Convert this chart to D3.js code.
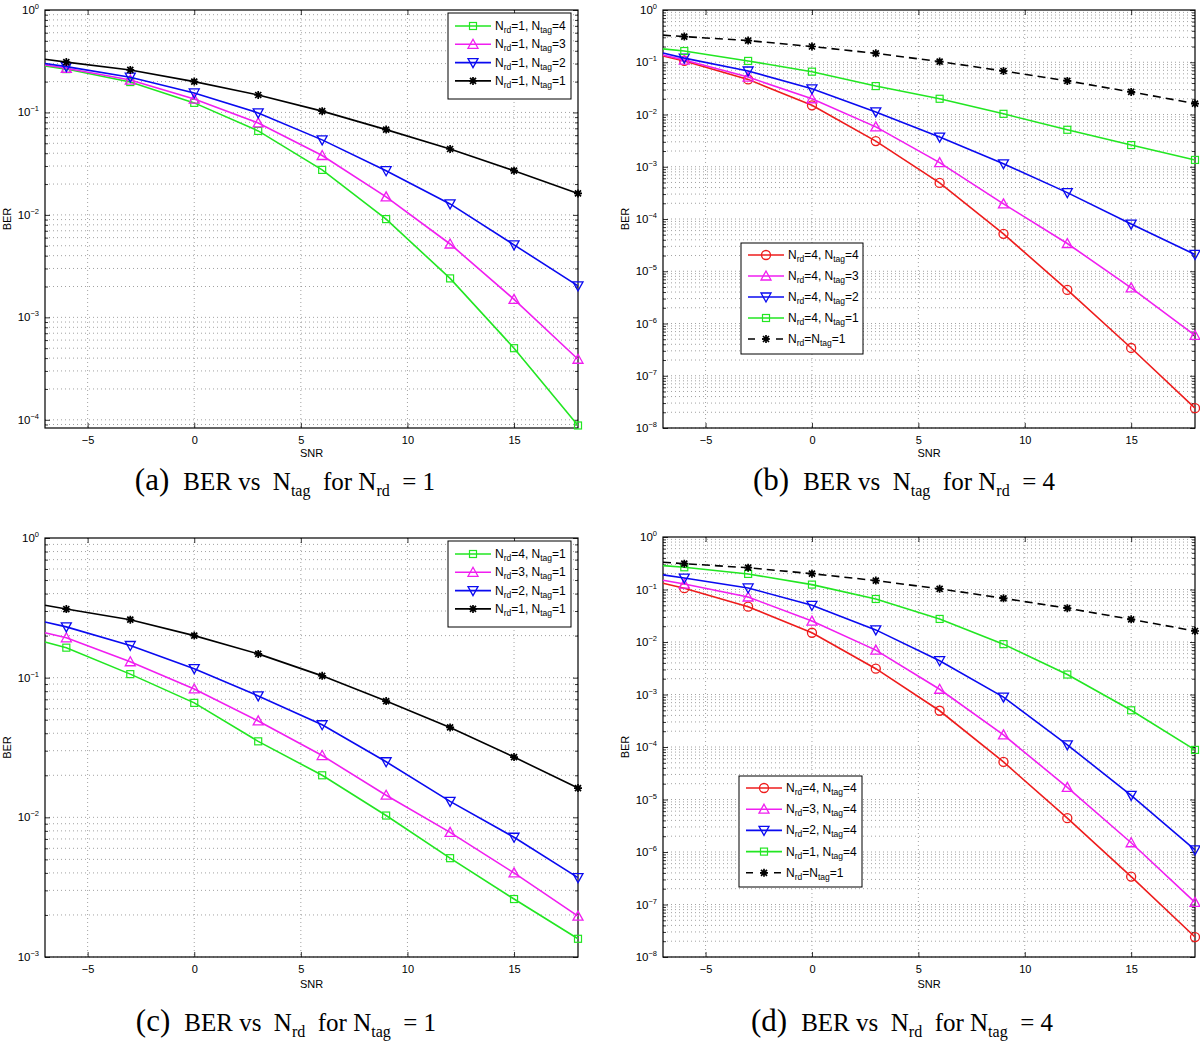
<!DOCTYPE html>
<html>
<head>
<meta charset="utf-8">
<script src="https://cdn.jsdelivr.net/npm/d3@7"></script>
<style>
body { margin: 0; background: #fff; }
svg { display: block; }
.lbl { font-family: "Liberation Sans", Arial, Helvetica, sans-serif; fill: #000; }
.cap { font-family: "Liberation Serif", "Times New Roman", serif; fill: #000; white-space: pre; }
</style>
</head>
<body>
<svg width="1200" height="1043"></svg>
<script>
// **** Values ****
// first SNR value is the left edge of the axes (line only, no marker)
var snr = [-7, -6, -3, 0, 3, 6, 9, 12, 15, 18];
var xTicks = [-5, 0, 5, 10, 15];

var berRd1Tag1 = [0.33, 0.31, 0.26, 0.20, 0.148, 0.103, 0.068, 0.044, 0.027, 0.0162];
var berRd1Tag2 = [0.30, 0.28, 0.221, 0.155, 0.099, 0.054, 0.027, 0.0128, 0.0051, 0.00203];
var berRd1Tag3 = [0.29, 0.27, 0.207, 0.135, 0.079, 0.038, 0.015, 0.0052, 0.0015, 0.00039];
var berRd1Tag4 = [0.285, 0.265, 0.198, 0.124, 0.066, 0.0275, 0.0091, 0.0024, 0.0005, 0.000088];
var berRd4Tag1 = [0.18, 0.164, 0.106, 0.066, 0.035, 0.020, 0.0103, 0.0051, 0.0026, 0.00135];
var berRd4Tag2 = [0.15, 0.12, 0.068, 0.031, 0.0112, 0.0037, 0.00114, 0.00032, 0.00008, 0.000021];
var berRd4Tag3 = [0.138, 0.11, 0.052, 0.020, 0.0058, 0.0012, 0.000195, 0.000034, 0.0000048, 0.00000059];
var berRd4Tag4 = [0.132, 0.106, 0.047, 0.015, 0.0031, 0.00049, 0.000052, 0.0000044, 0.00000034, 0.000000024];
var berRd2Tag1 = [0.25, 0.231, 0.17, 0.116, 0.074, 0.046, 0.025, 0.013, 0.0072, 0.0037];
var berRd3Tag1 = [0.21, 0.193, 0.13, 0.083, 0.049, 0.0277, 0.0144, 0.0078, 0.0040, 0.00196];
var berRd2Tag4 = [0.19, 0.165, 0.107, 0.05, 0.017, 0.0044, 0.00089, 0.00011, 0.000012, 0.0000011];
var berRd3Tag4 = [0.15, 0.127, 0.072, 0.025, 0.007, 0.00126, 0.00017, 0.000017, 0.0000015, 0.00000011];

var GREEN = "#22e622", MAGENTA = "#f01ef0", BLUE = "#0a0af0", RED = "#ee1c1c", BLACK = "#000";

var panels = [
    {left: 45, right: 578, top: 10, bottom: 428, yMin: Math.pow(10, -4.08),
     legend: {x: 448, y: 13, w: 123, h: 86, row: 13, step: 18.3},
     caption: {letter: "(a)", text: "BER vs  N_tag  for N_rd  = 1", cx: 285, y: 490},
     snrY: 457,
     series: [
        {label: "N_rd=1, N_tag=4", values: berRd1Tag4, color: GREEN, marker: "square"},
        {label: "N_rd=1, N_tag=3", values: berRd1Tag3, color: MAGENTA, marker: "up"},
        {label: "N_rd=1, N_tag=2", values: berRd1Tag2, color: BLUE, marker: "down"},
        {label: "N_rd=1, N_tag=1", values: berRd1Tag1, color: BLACK, marker: "star"}
     ]},
    {left: 663, right: 1195, top: 10, bottom: 428, yMin: 1e-8,
     legend: {x: 741, y: 243, w: 122, h: 111, row: 12, step: 21},
     caption: {letter: "(b)", text: "BER vs  N_tag  for N_rd  = 4", cx: 904, y: 490},
     snrY: 457,
     series: [
        {label: "N_rd=4, N_tag=4", values: berRd4Tag4, color: RED, marker: "circle"},
        {label: "N_rd=4, N_tag=3", values: berRd4Tag3, color: MAGENTA, marker: "up"},
        {label: "N_rd=4, N_tag=2", values: berRd4Tag2, color: BLUE, marker: "down"},
        {label: "N_rd=4, N_tag=1", values: berRd4Tag1, color: GREEN, marker: "square"},
        {label: "N_rd=N_tag=1", values: berRd1Tag1, color: BLACK, marker: "star", dashed: true}
     ]},
    {left: 45, right: 578, top: 538, bottom: 957, yMin: 1e-3,
     legend: {x: 448, y: 541, w: 123, h: 86, row: 13, step: 18.3},
     caption: {letter: "(c)", text: "BER vs  N_rd  for N_tag  = 1", cx: 286, y: 1031},
     snrY: 988,
     series: [
        {label: "N_rd=4, N_tag=1", values: berRd4Tag1, color: GREEN, marker: "square"},
        {label: "N_rd=3, N_tag=1", values: berRd3Tag1, color: MAGENTA, marker: "up"},
        {label: "N_rd=2, N_tag=1", values: berRd2Tag1, color: BLUE, marker: "down"},
        {label: "N_rd=1, N_tag=1", values: berRd1Tag1, color: BLACK, marker: "star"}
     ]},
    {left: 663, right: 1195, top: 537, bottom: 957, yMin: 1e-8,
     legend: {x: 739, y: 776, w: 123, h: 111, row: 12, step: 21.2},
     caption: {letter: "(d)", text: "BER vs  N_rd  for N_tag  = 4", cx: 902, y: 1031},
     snrY: 988,
     series: [
        {label: "N_rd=4, N_tag=4", values: berRd4Tag4, color: RED, marker: "circle"},
        {label: "N_rd=3, N_tag=4", values: berRd3Tag4, color: MAGENTA, marker: "up"},
        {label: "N_rd=2, N_tag=4", values: berRd2Tag4, color: BLUE, marker: "down"},
        {label: "N_rd=1, N_tag=4", values: berRd1Tag4, color: GREEN, marker: "square"},
        {label: "N_rd=N_tag=1", values: berRd1Tag1, color: BLACK, marker: "star", dashed: true}
     ]}
];

var svg = d3.select("svg");

// **** helpers ****

function drawMarker(g, type, cx, cy, color) {
    if (type == "square") {
        g.append("rect").attr("x", cx - 3.5).attr("y", cy - 3.5)
            .attr("width", 7).attr("height", 7)
            .attr("fill", "none").attr("stroke", color).attr("stroke-width", 1.2);
    } else if (type == "circle") {
        g.append("circle").attr("cx", cx).attr("cy", cy).attr("r", 4.5)
            .attr("fill", "none").attr("stroke", color).attr("stroke-width", 1.3);
    } else if (type == "up") {
        g.append("path").attr("d", "M" + cx + "," + (cy - 5) + "L" + (cx + 5) + "," + (cy + 4) + "L" + (cx - 5) + "," + (cy + 4) + "Z")
            .attr("fill", "none").attr("stroke", color).attr("stroke-width", 1.3);
    } else if (type == "down") {
        g.append("path").attr("d", "M" + cx + "," + (cy + 5) + "L" + (cx + 5) + "," + (cy - 4) + "L" + (cx - 5) + "," + (cy - 4) + "Z")
            .attr("fill", "none").attr("stroke", color).attr("stroke-width", 1.3);
    } else if (type == "star") {
        var r = 4, q = 3;
        g.append("path")
            .attr("d", "M" + (cx - r) + "," + cy + "L" + (cx + r) + "," + cy +
                       "M" + cx + "," + (cy - r) + "L" + cx + "," + (cy + r) +
                       "M" + (cx - q) + "," + (cy - q) + "L" + (cx + q) + "," + (cy + q) +
                       "M" + (cx - q) + "," + (cy + q) + "L" + (cx + q) + "," + (cy - q))
            .attr("stroke", color).attr("stroke-width", 1.7);
        g.append("circle").attr("cx", cx).attr("cy", cy).attr("r", 2).attr("fill", color);
    }
}

// "N_rd=1, N_tag=4" -> tspans with subscripts
function richText(text, str, size, subSize, shift) {
    var parts = str.split(/_(rd|tag)/);
    var down = false;
    parts.forEach(function(p, i) {
        if (p === "") return;
        var t = text.append("tspan").text(p);
        if (i % 2 == 1) {
            t.attr("font-size", subSize).attr("dy", shift);
            down = true;
        } else {
            t.attr("font-size", size);
            if (down) { t.attr("dy", -shift); down = false; }
        }
    });
}

function drawPanel(p) {
    var x = d3.scaleLinear().domain([-7, 18]).range([p.left, p.right]);
    var y = d3.scaleLog().domain([p.yMin, 1]).range([p.bottom, p.top]);
    var g = svg.append("g");

    var decades = [], minors = [];
    for (var e = Math.floor(Math.log10(p.yMin)); e <= 0; e++) {
        for (var k = 1; k < 10; k++) {
            var v = +(k + "e" + e);
            if (v < p.yMin * 0.999 || v > 1) continue;
            if (k == 1) decades.push(v); else minors.push(v);
        }
    }

    // grid (dotted)
    g.selectAll(".hgrid").data(decades.concat(minors).filter(function(v) { return v < 1; }))
        .enter().append("line")
        .attr("x1", p.left).attr("x2", p.right)
        .attr("y1", function(d) { return y(d); }).attr("y2", function(d) { return y(d); })
        .attr("stroke", "#8a8a8a").attr("stroke-width", 0.8).attr("stroke-dasharray", "1,3");
    g.selectAll(".vgrid").data(xTicks).enter().append("line")
        .attr("x1", function(d) { return x(d); }).attr("x2", function(d) { return x(d); })
        .attr("y1", p.top).attr("y2", p.bottom)
        .attr("stroke", "#8a8a8a").attr("stroke-width", 0.8).attr("stroke-dasharray", "1,3");

    // ticks, inside on all four sides
    function tickAxis(axis, tx, ty) {
        var a = g.append("g").attr("transform", "translate(" + tx + "," + ty + ")").call(axis);
        a.select(".domain").remove();
        a.selectAll("line").attr("stroke", "#000").attr("stroke-width", 0.8);
        return a;
    }
    var xb = tickAxis(d3.axisBottom(x).tickValues(xTicks).tickSize(-5).tickPadding(8), 0, p.bottom);
    xb.selectAll("text").attr("class", "lbl").attr("font-size", 11).attr("font-family", null);
    tickAxis(d3.axisTop(x).tickValues(xTicks).tickSize(-5).tickFormat(""), 0, p.top);
    tickAxis(d3.axisLeft(y).tickValues(decades).tickSize(-5).tickFormat(""), p.left, 0);
    tickAxis(d3.axisLeft(y).tickValues(minors).tickSize(-3).tickFormat(""), p.left, 0);
    tickAxis(d3.axisRight(y).tickValues(decades).tickSize(-5).tickFormat(""), p.right, 0);
    tickAxis(d3.axisRight(y).tickValues(minors).tickSize(-3).tickFormat(""), p.right, 0);

    // y tick labels 10^k
    decades.forEach(function(v) {
        var ex = Math.round(Math.log10(v));
        var t = g.append("text").attr("class", "lbl").attr("text-anchor", "end")
            .attr("x", p.left - 6).attr("y", y(v) + 4);
        t.append("tspan").attr("font-size", 11.5).text("10");
        t.append("tspan").attr("font-size", 7.5).attr("dy", -5)
            .text(ex == 0 ? "0" : "\u2212" + Math.abs(ex));
    });

    // axes box
    g.append("rect").attr("x", p.left).attr("y", p.top)
        .attr("width", p.right - p.left).attr("height", p.bottom - p.top)
        .attr("fill", "none").attr("stroke", "#000").attr("stroke-width", 1.2);

    // curves
    var line = d3.line()
        .x(function(d) { return x(d[0]); })
        .y(function(d) { return y(d[1]); });
    p.series.forEach(function(s) {
        var pts = d3.zip(snr, s.values);
        g.append("path").datum(pts).attr("d", line)
            .attr("fill", "none").attr("stroke", s.color).attr("stroke-width", 1.6)
            .attr("stroke-dasharray", s.dashed ? "8,5" : null);
        pts.forEach(function(d) {
            if (d[0] % 3 == 0) drawMarker(g, s.marker, x(d[0]), y(d[1]), s.color);
        });
    });

    // legend
    var L = p.legend;
    g.append("rect").attr("x", L.x).attr("y", L.y).attr("width", L.w).attr("height", L.h)
        .attr("fill", "#fff").attr("stroke", "#000").attr("stroke-width", 1);
    p.series.forEach(function(s, i) {
        var ry = L.y + L.row + i * L.step;
        g.append("line").attr("x1", L.x + 7).attr("x2", L.x + 43).attr("y1", ry).attr("y2", ry)
            .attr("stroke", s.color).attr("stroke-width", 1.6)
            .attr("stroke-dasharray", s.dashed ? "7,7" : null);
        drawMarker(g, s.marker, L.x + 25, ry, s.color);
        var t = g.append("text").attr("class", "lbl").attr("x", L.x + 47).attr("y", ry + 4);
        richText(t, s.label, 12, 8.5, 3);
    });

    // axis labels
    g.append("text").attr("class", "lbl").attr("font-size", 11).attr("text-anchor", "middle")
        .attr("transform", "translate(" + (p.left - 34) + "," + ((p.top + p.bottom) / 2) + ") rotate(-90)")
        .text("BER");
    g.append("text").attr("class", "lbl").attr("font-size", 11).attr("text-anchor", "middle")
        .attr("x", (p.left + p.right) / 2).attr("y", p.snrY).text("SNR");

    // caption below the panel
    var c = svg.append("text").attr("class", "cap").attr("text-anchor", "middle")
        .attr("x", p.caption.cx).attr("y", p.caption.y);
    c.append("tspan").attr("font-size", 31).text(p.caption.letter + " ");
    richText(c, " " + p.caption.text, 25, 16, 6);
}

panels.forEach(drawPanel);
</script>
</body>
</html>
